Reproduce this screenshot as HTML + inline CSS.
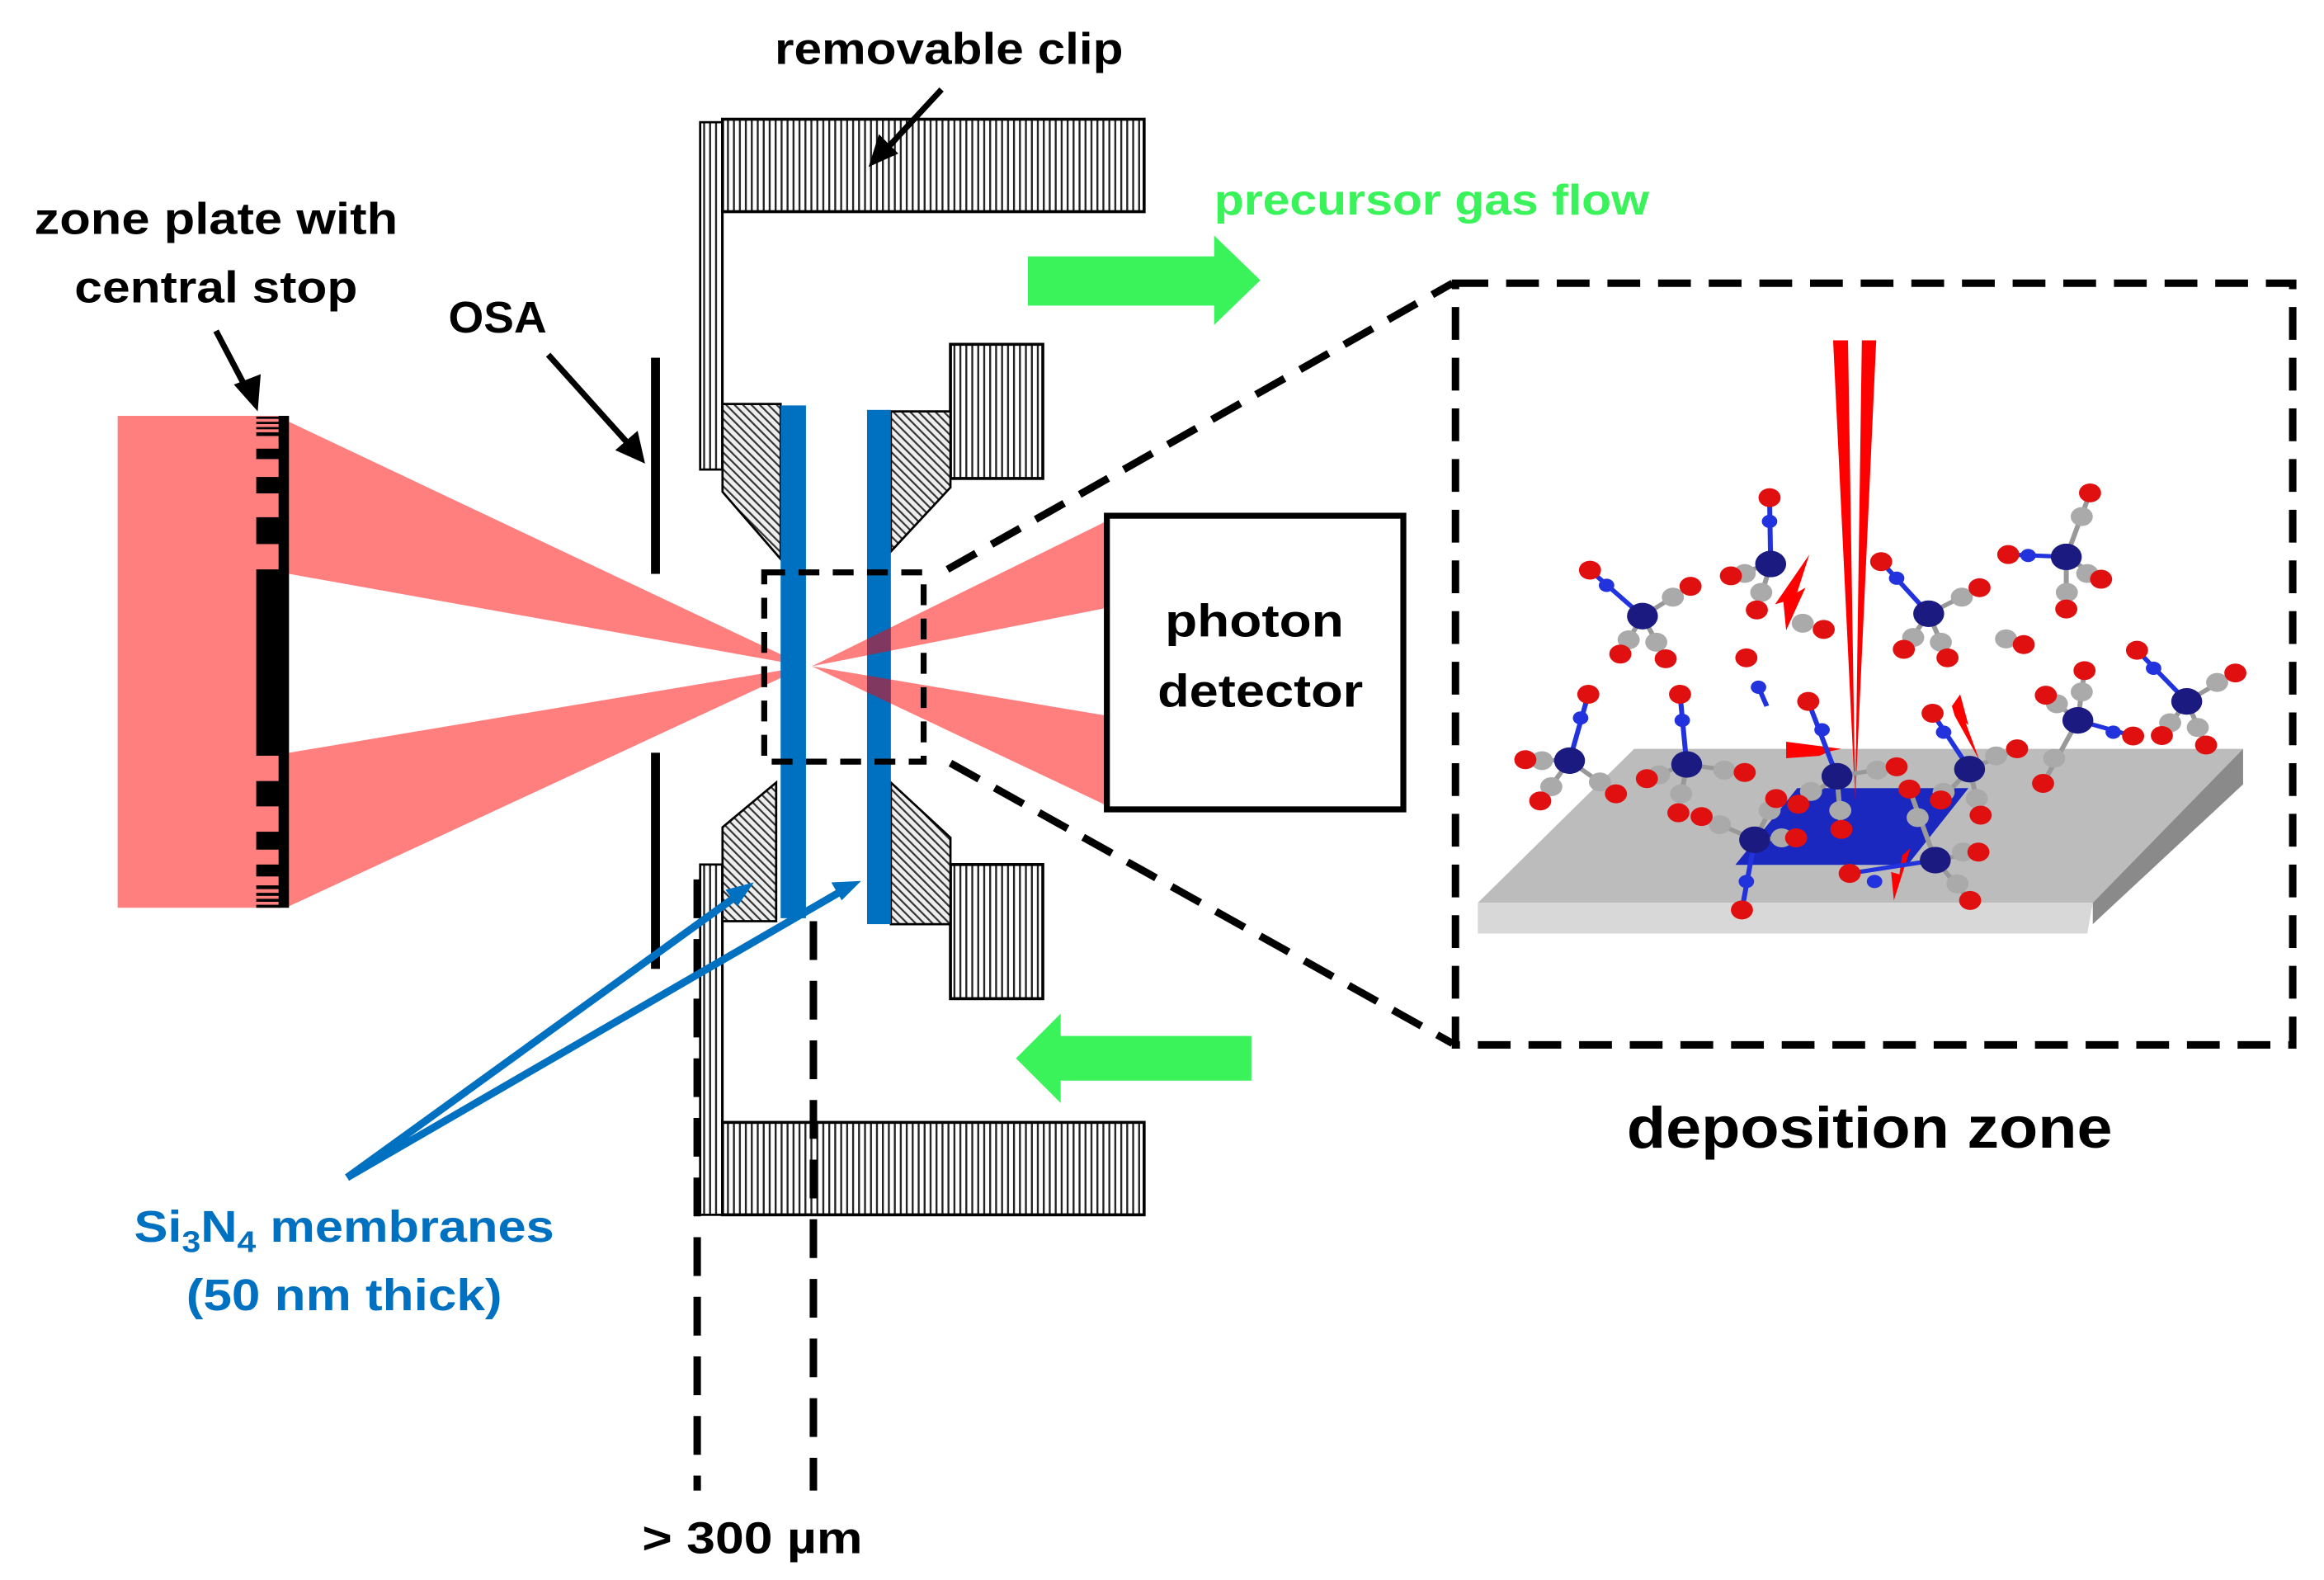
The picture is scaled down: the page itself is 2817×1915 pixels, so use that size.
<!DOCTYPE html>
<html><head><meta charset="utf-8"><style>
html,body{margin:0;padding:0;background:#fff;}
svg{display:block;}
text{font-family:"Liberation Sans",sans-serif;font-weight:bold;}
</style></head><body>
<svg width="2817" height="1915" viewBox="0 0 1560 1060" preserveAspectRatio="none" xmlns="http://www.w3.org/2000/svg">
<defs>
<pattern id="vl" width="4" height="10" patternUnits="userSpaceOnUse"><rect width="4" height="10" fill="#fff"/><rect x="0" width="1.3" height="10" fill="#222"/></pattern>
<pattern id="dh" width="4" height="4" patternUnits="userSpaceOnUse" patternTransform="rotate(-45)"><rect width="4" height="4" fill="#eee"/><rect width="1.2" height="4" fill="#333"/></pattern>
</defs>
<rect width="1560" height="1060" fill="#fff"/>

<!-- beams -->
<rect x="79" y="279" width="109" height="330" fill="#ff7f7f"/>
<polygon points="194,283 194,385 541,447" fill="#ff7f7f"/>
<polygon points="194,505 194,608 541,447" fill="#ff7f7f"/>

<!-- zone plate -->
<rect x="187" y="279" width="7" height="330" fill="#000"/>
<rect x="172" y="382" width="16" height="125" fill="#000"/>
<g fill="#000">
<rect x="172" y="279.5" width="16" height="1.5"/><rect x="172" y="283" width="16" height="1.5"/><rect x="172" y="286.5" width="16" height="1.5"/>
<rect x="172" y="290" width="16" height="2.5"/><rect x="172" y="301" width="16" height="7"/><rect x="172" y="320" width="16" height="11"/><rect x="172" y="347" width="16" height="18"/>
<rect x="172" y="524" width="16" height="17"/><rect x="172" y="558" width="16" height="12"/><rect x="172" y="580" width="16" height="8"/>
<rect x="172" y="594" width="16" height="2.5"/><rect x="172" y="599" width="16" height="2"/><rect x="172" y="603" width="16" height="2"/><rect x="172" y="607" width="16" height="2"/>
</g>

<!-- OSA -->
<rect x="437" y="240" width="6" height="145" fill="#000"/>
<rect x="437" y="505" width="6" height="145" fill="#000"/>

<!-- clip -->
<rect x="470" y="82" width="15" height="233" fill="url(#vl)" stroke="#000" stroke-width="1.5"/>
<rect x="485" y="80" width="283" height="62" fill="url(#vl)" stroke="#000" stroke-width="2"/>
<rect x="470" y="580" width="15" height="235" fill="url(#vl)" stroke="#000" stroke-width="1.5"/>
<rect x="485" y="753" width="283" height="62" fill="url(#vl)" stroke="#000" stroke-width="2"/>
<rect x="638" y="231" width="62" height="90" fill="url(#vl)" stroke="#000" stroke-width="2"/>
<rect x="638" y="580" width="62" height="90" fill="url(#vl)" stroke="#000" stroke-width="2"/>

<!-- hatched holders -->
<polygon points="485,271 524,271 524,375 485,330" fill="url(#dh)" stroke="#000" stroke-width="1.5"/>
<polygon points="598,276 638,276 638,327 598,370" fill="url(#dh)" stroke="#000" stroke-width="1.5"/>
<polygon points="485,555 521,525 521,618 485,618" fill="url(#dh)" stroke="#000" stroke-width="1.5"/>
<polygon points="598,525 638,562 638,620 598,620" fill="url(#dh)" stroke="#000" stroke-width="1.5"/>

<!-- membranes -->
<rect x="524" y="272" width="17" height="344" fill="#0070c0"/>
<rect x="582" y="275" width="16" height="345" fill="#0070c0"/>
<polygon points="545,447 742,350 742,408" fill="#ff0000" fill-opacity="0.5"/>
<polygon points="545,447 742,480 742,540" fill="#ff0000" fill-opacity="0.5"/>

<!-- dashed box and lines -->
<rect x="513" y="384" width="107" height="127" fill="none" stroke="#000" stroke-width="4" stroke-dasharray="14,9"/>
<line x1="636" y1="382" x2="975" y2="190" stroke="#000" stroke-width="5" stroke-dasharray="22,12"/>
<line x1="638" y1="512" x2="975" y2="700" stroke="#000" stroke-width="5" stroke-dasharray="22,12"/>
<rect x="977" y="190" width="562" height="511" fill="none" stroke="#000" stroke-width="5" stroke-dasharray="22,12"/>
<line x1="468" y1="590" x2="468" y2="1000" stroke="#000" stroke-width="5" stroke-dasharray="26,14"/>
<line x1="546" y1="618" x2="546" y2="1000" stroke="#000" stroke-width="5" stroke-dasharray="26,14"/>

<!-- photon detector -->
<rect x="743" y="346" width="199" height="197" fill="#fff" stroke="#000" stroke-width="4"/>
<text x="842" y="427" font-size="31" text-anchor="middle" textLength="120" lengthAdjust="spacingAndGlyphs">photon</text>
<text x="846" y="474" font-size="31" text-anchor="middle" textLength="138" lengthAdjust="spacingAndGlyphs">detector</text>

<!-- green arrows -->
<polygon points="690,172 815,172 815,158 846,188 815,218 815,205 690,205" fill="#3af25a"/>
<polygon points="840,695 712,695 712,680 682,710 712,740 712,725 840,725" fill="#3af25a"/>

<!-- black arrows -->
<g stroke="#000" stroke-width="4" fill="#000">
<line x1="632" y1="60" x2="595" y2="100"/>
<line x1="145" y1="222" x2="166" y2="262"/>
<line x1="368" y1="238" x2="422" y2="298"/>
</g>
<polygon points="583,112 590,90 603,103" fill="#000"/>
<polygon points="173,276 157,258 175,251" fill="#000"/>
<polygon points="433,311 413,302 428,289" fill="#000"/>

<!-- blue arrows -->
<g stroke="#0070c0" stroke-width="5" fill="none">
<line x1="233" y1="790" x2="496" y2="600"/>
<line x1="233" y1="790" x2="568" y2="596"/>
</g>
<polygon points="506,592 487,597 495,608" fill="#0070c0"/>
<polygon points="578,591 558,592 565,604" fill="#0070c0"/>

<!-- labels -->
<text x="637" y="43" font-size="30" text-anchor="middle" textLength="234" lengthAdjust="spacingAndGlyphs">removable clip</text>
<text x="815" y="144" font-size="29" fill="#3af25a" textLength="292" lengthAdjust="spacingAndGlyphs">precursor gas flow</text>
<text x="145" y="157" font-size="30" text-anchor="middle" textLength="244" lengthAdjust="spacingAndGlyphs">zone plate with</text>
<text x="145" y="203" font-size="30" text-anchor="middle" textLength="190" lengthAdjust="spacingAndGlyphs">central stop</text>
<text x="301" y="223" font-size="30" textLength="66" lengthAdjust="spacingAndGlyphs">OSA</text>
<text x="1255" y="770" font-size="39" text-anchor="middle" textLength="326" lengthAdjust="spacingAndGlyphs">deposition zone</text>
<text x="90" y="833" font-size="30" fill="#0070c0" textLength="282" lengthAdjust="spacingAndGlyphs">Si<tspan font-size="20" dy="7">3</tspan><tspan dy="-7">N</tspan><tspan font-size="20" dy="7">4</tspan><tspan dy="-7"> membranes</tspan></text>
<text x="231" y="879" font-size="30" fill="#0070c0" text-anchor="middle" textLength="212" lengthAdjust="spacingAndGlyphs">(50 nm thick)</text>
<text x="505" y="1042" font-size="30" text-anchor="middle" textLength="148" lengthAdjust="spacingAndGlyphs">&gt; 300 µm</text>

<!-- deposition zone content -->
<g transform="translate(969,194) scale(0.3709,0.3179)">
<polygon points="345,970 1447,970 1175,1295 62,1295" fill="#bcbcbc"/>
<polygon points="62,1295 1175,1295 1165,1360 62,1360" fill="#d8d8d8"/>
<polygon points="1447,970 1447,1045 1175,1340 1175,1295" fill="#8a8a8a"/>
<polygon points="640,1053 950,1053 840,1215 528,1215" fill="#1a28c0"/>
<polygon points="705,108 732,108 745,1080" fill="#ff0000"/>
<polygon points="757,108 783,108 745,1080" fill="#ff0000"/>
<g fill="#ff0000">
<polygon points="662,560 640,640 655,630 620,720 615,660 600,665"/>
<polygon points="620,955 720,970 700,975 680,985 620,990"/>
<polygon points="935,855 950,920 945,915 970,995 925,900 920,880"/>
<polygon points="845,1180 815,1290 810,1230 825,1235 830,1195"/>
</g>
<g id="mols"></g>
</g>
</svg>
<script>
(function(){
var M=[
[[360,690],[[295,625,265,593,'N'],[415,650,447,627],[335,740,320,770],[385,745,402,780]]],
[[592,580],[[590,490,590,440,'N'],[545,600,520,605],[575,640,567,677]]],
[[878,685],[[820,610,792,575,'N'],[938,650,970,630],[850,735,833,760],[900,745,912,778]]],
[[1127,565],[[1058,562,1022,560,'N'],[1155,480,1170,430],[1165,600,1190,612],[1128,640,1127,675]]],
[[1345,870],[[1285,800,1255,762,'N'],[1400,830,1433,810],[1315,915,1300,942],[1365,925,1380,962]]],
[[1148,910],[[1212,935,1248,943,'N'],[1155,850,1160,805],[1110,875,1090,857],[1105,990,1085,1043]]],
[[228,995],[[248,905,262,855,'N'],[178,995,148,993],[195,1050,175,1080],[283,1040,312,1065]]],
[[440,1003],[[432,910,428,855,'N'],[390,1025,368,1033],[508,1015,545,1020],[430,1065,425,1105]]],
[[712,1028],[[685,930,660,870,'N'],[785,1015,820,1008],[665,1060,642,1087],[718,1100,720,1140]]],
[[952,1013],[[905,935,885,895,'N'],[1000,985,1038,970],[905,1062,900,1078],[965,1075,972,1110]]],
[[563,1162],[[548,1250,540,1310,'N'],[500,1130,467,1113],[612,1158,638,1158],[590,1100,602,1075]]],
[[890,1205],[[780,1250,735,1233,'N'],[940,1188,968,1188],[930,1255,953,1290],[858,1115,843,1055]]]
];
var s='';
M.forEach(function(m){var c=m[0];
m[1].forEach(function(b){var col=b[4]?'#2233dd':'#999';s+='<line x1="'+c[0]+'" y1="'+c[1]+'" x2="'+b[2]+'" y2="'+b[3]+'" stroke="'+col+'" stroke-width="9"/>';});
m[1].forEach(function(b){s+='<circle cx="'+b[0]+'" cy="'+b[1]+'" r="'+(b[4]?14:20)+'" fill="'+(b[4]?'#2233dd':'#aaa')+'"/><circle cx="'+b[2]+'" cy="'+b[3]+'" r="20" fill="#e01010"/>';});
s+='<circle cx="'+c[0]+'" cy="'+c[1]+'" r="28" fill="#1a1a80"/>';});
s+='<circle cx="650" cy="705" r="20" fill="#aaa"/><circle cx="688" cy="718" r="20" fill="#e01010"/>';
s+='<circle cx="1018" cy="738" r="20" fill="#aaa"/><circle cx="1050" cy="750" r="20" fill="#e01010"/>';
s+='<line x1="570" y1="840" x2="585" y2="880" stroke="#2233dd" stroke-width="9"/><circle cx="570" cy="840" r="14" fill="#2233dd"/><circle cx="548" cy="778" r="20" fill="#e01010"/>';
document.getElementById('mols').innerHTML=s;
})();
</script>
</body></html>
